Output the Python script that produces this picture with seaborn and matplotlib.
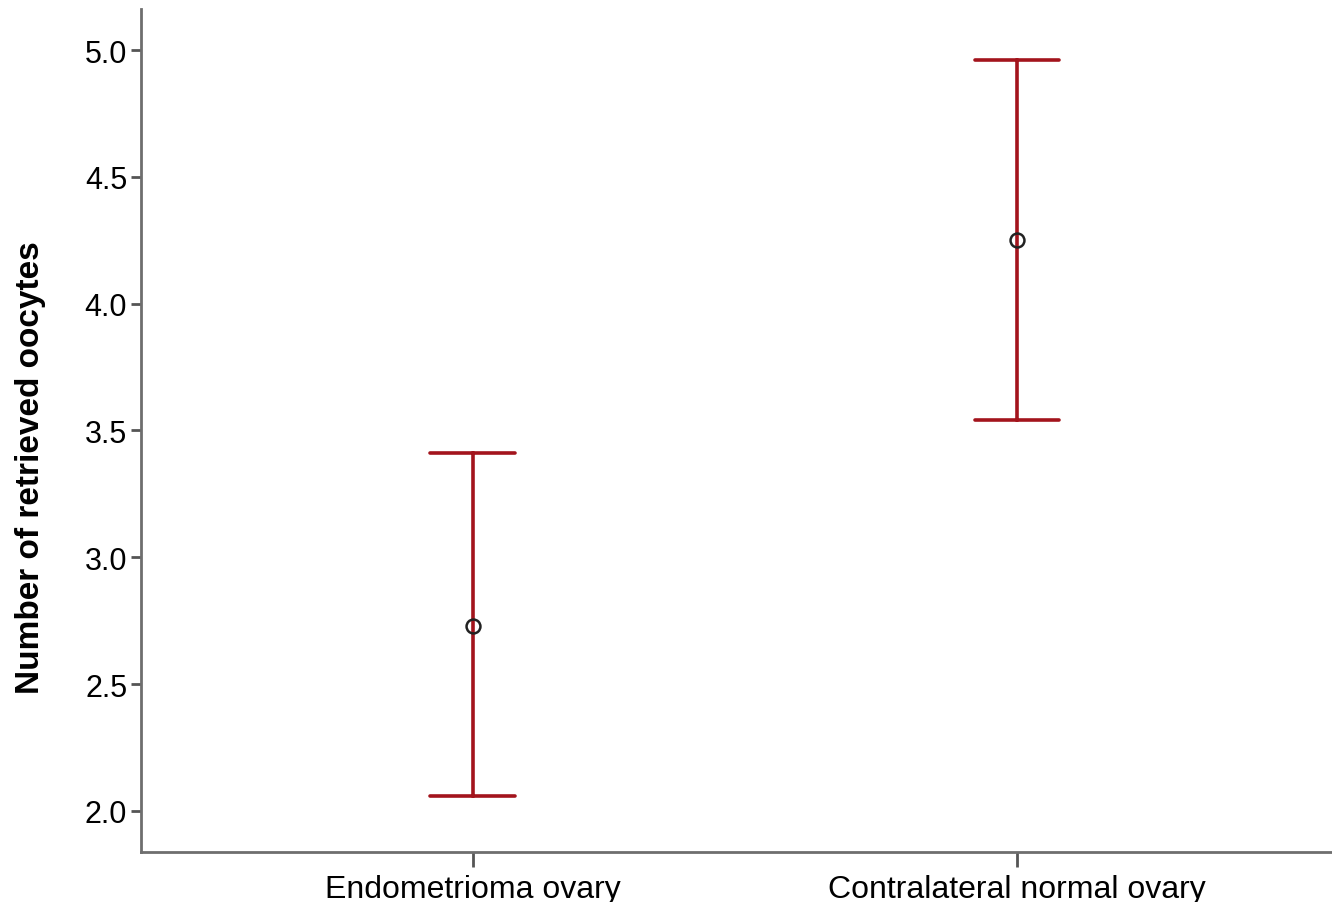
import matplotlib
matplotlib.use("Agg")
import matplotlib.pyplot as plt
import seaborn as sns
import pandas as pd
import numpy as np

# Mean number of retrieved oocytes with 95% CI bounds per ovary group
groups = ["Endometrioma ovary", "Contralateral normal ovary"]
means = [2.73, 4.25]
ci_low = [2.06, 3.54]
ci_high = [3.41, 4.96]

sns.set_style("ticks")
plt.rcParams["font.family"] = ["Liberation Sans", "DejaVu Sans"]
plt.rcParams["text.color"] = "black"
plt.rcParams["axes.labelcolor"] = "black"
plt.rcParams["xtick.labelcolor"] = "black"
plt.rcParams["ytick.labelcolor"] = "black"

# Long-form table: lower bound, mean, upper bound for each group
rows = []
for g, lo, m, hi in zip(groups, ci_low, means, ci_high):
    for v in (lo, m, hi):
        rows.append({"group": g, "value": v})
df = pd.DataFrame(rows)

fig = plt.figure(figsize=(13.32, 9.03), dpi=100)
ax = fig.add_axes([0.1059, 0.0554, 0.8941, 0.9336])

bar_color = "#a3141c"
sns.pointplot(
    data=df, x="group", y="value", order=groups,
    estimator="median",
    errorbar=lambda v: (np.min(v), np.max(v)),
    capsize=0.156,
    linestyle="none",
    color=bar_color,
    markers="o",
    markersize=10,
    markerfacecolor="none",
    markeredgecolor="#222222",
    markeredgewidth=1.8,
    err_kws={"color": bar_color, "linewidth": 2.6},
    ax=ax,
)
# keep the mean markers drawn above the error lines
for ln in ax.lines:
    if ln.get_marker() == "o":
        ln.set_zorder(5)

ax.set_xlim(-0.61, 1.579)
ax.set_ylim(1.838, 5.162)
yt = [2.0, 2.5, 3.0, 3.5, 4.0, 4.5, 5.0]
ax.set_yticks(yt)
ax.set_yticklabels([f"{t:.1f}" for t in yt])

ax.set_xlabel("")
ax.set_ylabel("Number of retrieved oocytes", fontsize=24, fontweight="bold")
ax.yaxis.set_label_coords(-0.08, 0.4567)

sns.despine(ax=ax)
for side in ("left", "bottom"):
    ax.spines[side].set_color("#6e6e6e")
    ax.spines[side].set_linewidth(2.0)

ax.tick_params(axis="y", length=7, width=2, color="#555555", labelsize=22, pad=3)
ax.tick_params(axis="x", length=11, width=2, color="#555555", labelsize=23, pad=5)

fig.savefig("out.png", dpi=100)
